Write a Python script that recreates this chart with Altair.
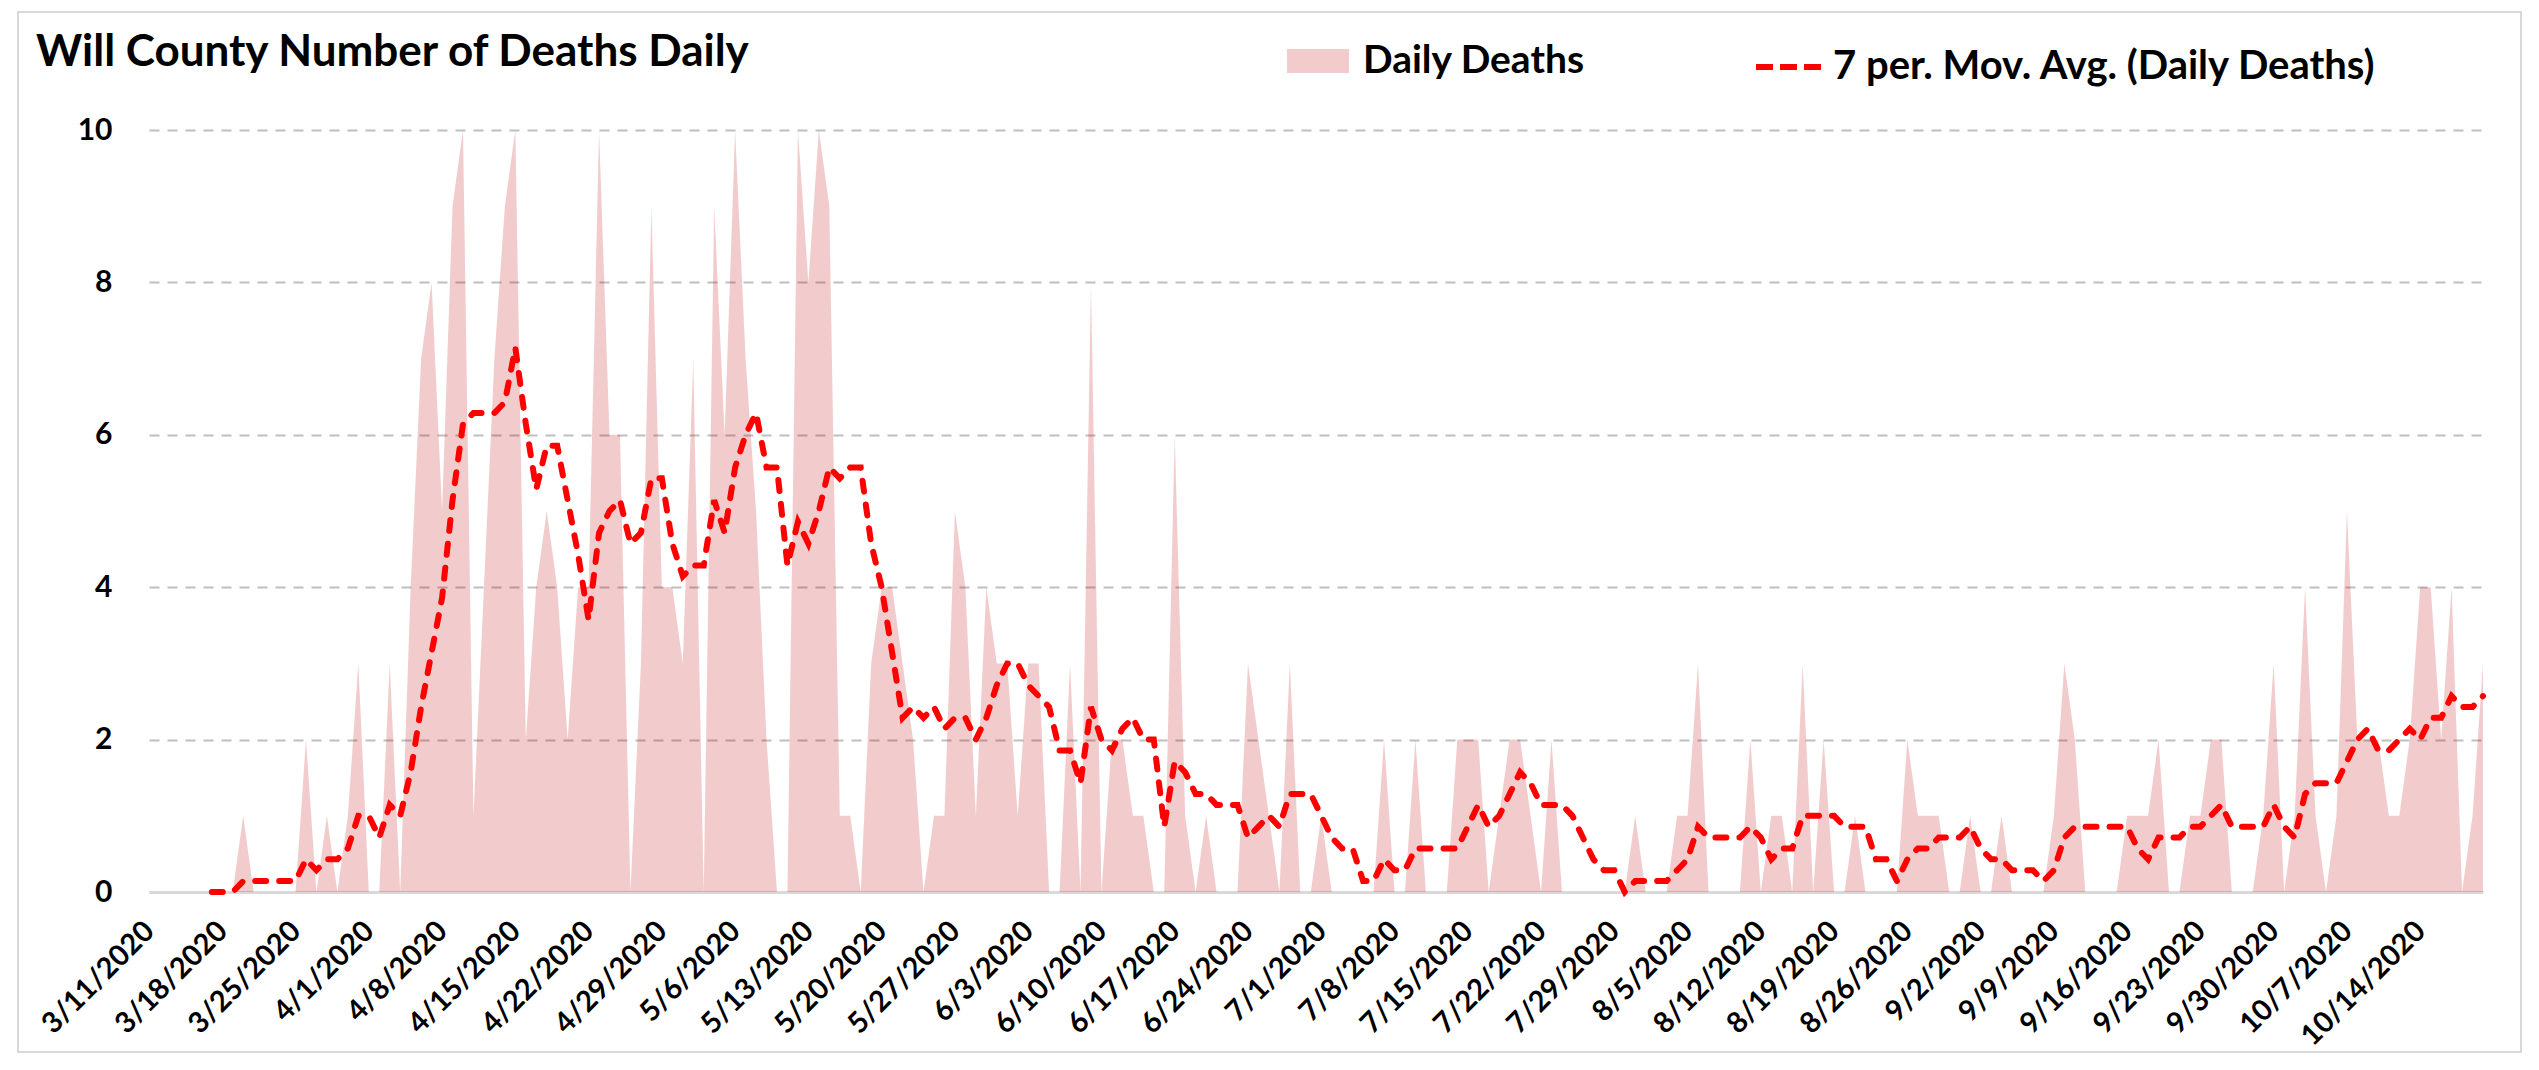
import altair as alt
import pandas as pd

title_text = "Will County Number of Deaths Daily"
start_date = "2020-03-11"
series_area = "Daily Deaths"
series_line = "7 per. Mov. Avg. (Daily Deaths)"

# daily deaths, 3/11/2020 .. 10/20/2020 (one row per week, Wed..Tue)
daily_deaths = [
    0, 0, 0, 0, 0, 0, 0,
    0, 0, 1, 0, 0, 0, 0,
    0, 2, 0, 1, 0, 1, 3,
    0, 0, 3, 0, 4, 7, 8,
    5, 9, 10, 1, 4, 7, 9,
    10, 2, 4, 5, 4, 2, 4,
    4, 10, 6, 6, 0, 3, 9,
    4, 4, 3, 7, 0, 9, 6,
    10, 7, 5, 2, 0, 0, 10,
    8, 10, 9, 1, 1, 0, 3,
    4, 4, 3, 2, 0, 1, 1,
    5, 4, 1, 4, 3, 3, 1,
    3, 3, 0, 0, 3, 0, 8,
    0, 2, 2, 1, 1, 0, 0,
    6, 1, 0, 1, 0, 0, 0,
    3, 2, 1, 0, 3, 0, 0,
    1, 0, 0, 0, 0, 0, 2,
    0, 0, 2, 0, 0, 0, 2,
    2, 2, 0, 1, 2, 2, 1,
    0, 2, 0, 0, 0, 0, 0,
    0, 0, 1, 0, 0, 0, 1,
    1, 3, 0, 0, 0, 0, 2,
    0, 1, 1, 0, 3, 0, 2,
    0, 0, 1, 0, 0, 0, 0,
    2, 1, 1, 1, 0, 0, 1,
    0, 0, 1, 0, 0, 0, 0,
    1, 3, 2, 0, 0, 0, 0,
    1, 1, 1, 2, 0, 0, 1,
    1, 2, 2, 0, 0, 0, 1,
    3, 0, 1, 4, 1, 0, 1,
    5, 2, 2, 2, 1, 1, 2,
    4, 4, 2, 4, 0, 1, 3,
]

tick_labels = [
    "3/11/2020", "3/18/2020", "3/25/2020", "4/1/2020", "4/8/2020", "4/15/2020",
    "4/22/2020", "4/29/2020", "5/6/2020", "5/13/2020", "5/20/2020", "5/27/2020",
    "6/3/2020", "6/10/2020", "6/17/2020", "6/24/2020", "7/1/2020", "7/8/2020",
    "7/15/2020", "7/22/2020", "7/29/2020", "8/5/2020", "8/12/2020", "8/19/2020",
    "8/26/2020", "9/2/2020", "9/9/2020", "9/16/2020", "9/23/2020", "9/30/2020",
    "10/7/2020", "10/14/2020",
]
y_ticks = [0, 2, 4, 6, 8, 10]

dates = pd.date_range(start_date, periods=len(daily_deaths), freq="D")
date_labels = [f"{d.month}/{d.day}/{d.year}" for d in dates]
df = pd.DataFrame({"idx": list(range(len(daily_deaths))), "date": date_labels, "deaths": daily_deaths})

FONT = "Lato"

x_enc = alt.X(
    "date:O",
    scale=alt.Scale(type="point", padding=0, domain=date_labels),
    axis=alt.Axis(
        values=tick_labels, labelAngle=-45, labelAlign="right", labelBaseline="middle",
        labelPadding=34, grid=False, ticks=False, domainColor="#D9D9D9", domainWidth=3,
        labelFont=FONT, labelFontSize=29, labelFontWeight="bold", labelColor="black",
        labelOverlap=False, title=None,
    ),
)
y_scale = alt.Scale(domain=[0, 10], nice=False)
y_axis = alt.Axis(
    values=y_ticks, format="d", grid=True, gridDash=[10, 8], gridColor="#BFBFBF", gridWidth=2,
    domain=False, ticks=False, labelFont=FONT, labelFontSize=30, labelFontWeight="bold",
    labelColor="black", labelPadding=37, title=None,
)

base = alt.Chart(df)

area = base.transform_calculate(s1=f"'{series_area}'").mark_area(
    interpolate="linear", fillOpacity=0.2
).encode(
    x=x_enc,
    y=alt.Y("deaths:Q", scale=y_scale, axis=y_axis),
    fill=alt.Fill(
        "s1:N",
        scale=alt.Scale(domain=[series_area], range=["#C00000"]),
        legend=alt.Legend(
            orient="none", legendX=1138, legendY=-100, title=None, padding=0,
            labelFont=FONT, labelFontSize=39, labelFontWeight="bold", labelColor="black",
            symbolType="M-1,-0.39L1,-0.39L1,0.39L-1,0.39Z", symbolSize=3844,
            symbolOpacity=0.2, symbolStrokeWidth=0, labelOffset=14, labelLimit=1000,
        ),
    ),
)

line = base.transform_window(
    ma="mean(deaths)", frame=[-6, 0], sort=[alt.SortField("idx")]
).transform_filter("datum.idx >= 6").transform_calculate(
    s2=f"'{series_line}'"
).mark_line(strokeWidth=6, strokeDash=[11, 13], strokeCap="round").encode(
    x=x_enc,
    y=alt.Y("ma:Q", scale=y_scale),
    stroke=alt.Stroke(
        "s2:N",
        scale=alt.Scale(domain=[series_line], range=["#FF0000"]),
        legend=alt.Legend(
            orient="none", legendX=1604, legendY=-100, title=None, padding=0,
            labelFont=FONT, labelFontSize=40, labelFontWeight="bold", labelColor="black",
            symbolType="stroke", symbolSize=4624, symbolStrokeWidth=6, symbolDash=[17, 7],
            labelOffset=6, labelLimit=1000,
        ),
    ),
)

frame = alt.Chart(pd.DataFrame({"k": [0]})).mark_rect(
    filled=False, stroke="#D9D9D9", strokeWidth=2
).encode(
    x=alt.value(-131), x2=alt.value(2372), y=alt.value(-118), y2=alt.value(922)
)

chart = alt.layer(frame, area, line).properties(
    width=2334,
    height=762,
    autosize=alt.AutoSizeParams(type="none"),
    padding={"left": 141, "top": 122, "right": 40, "bottom": 162},
    title=alt.TitleParams(
        title_text, anchor="start", frame="group", font=FONT, fontSize=44,
        fontWeight="bold", color="black", dx=-113, offset=-99, baseline="alphabetic",
    ),
).configure_view(stroke=None)

chart.save("out.html", embed_options={"renderer": "svg", "actions": False})
